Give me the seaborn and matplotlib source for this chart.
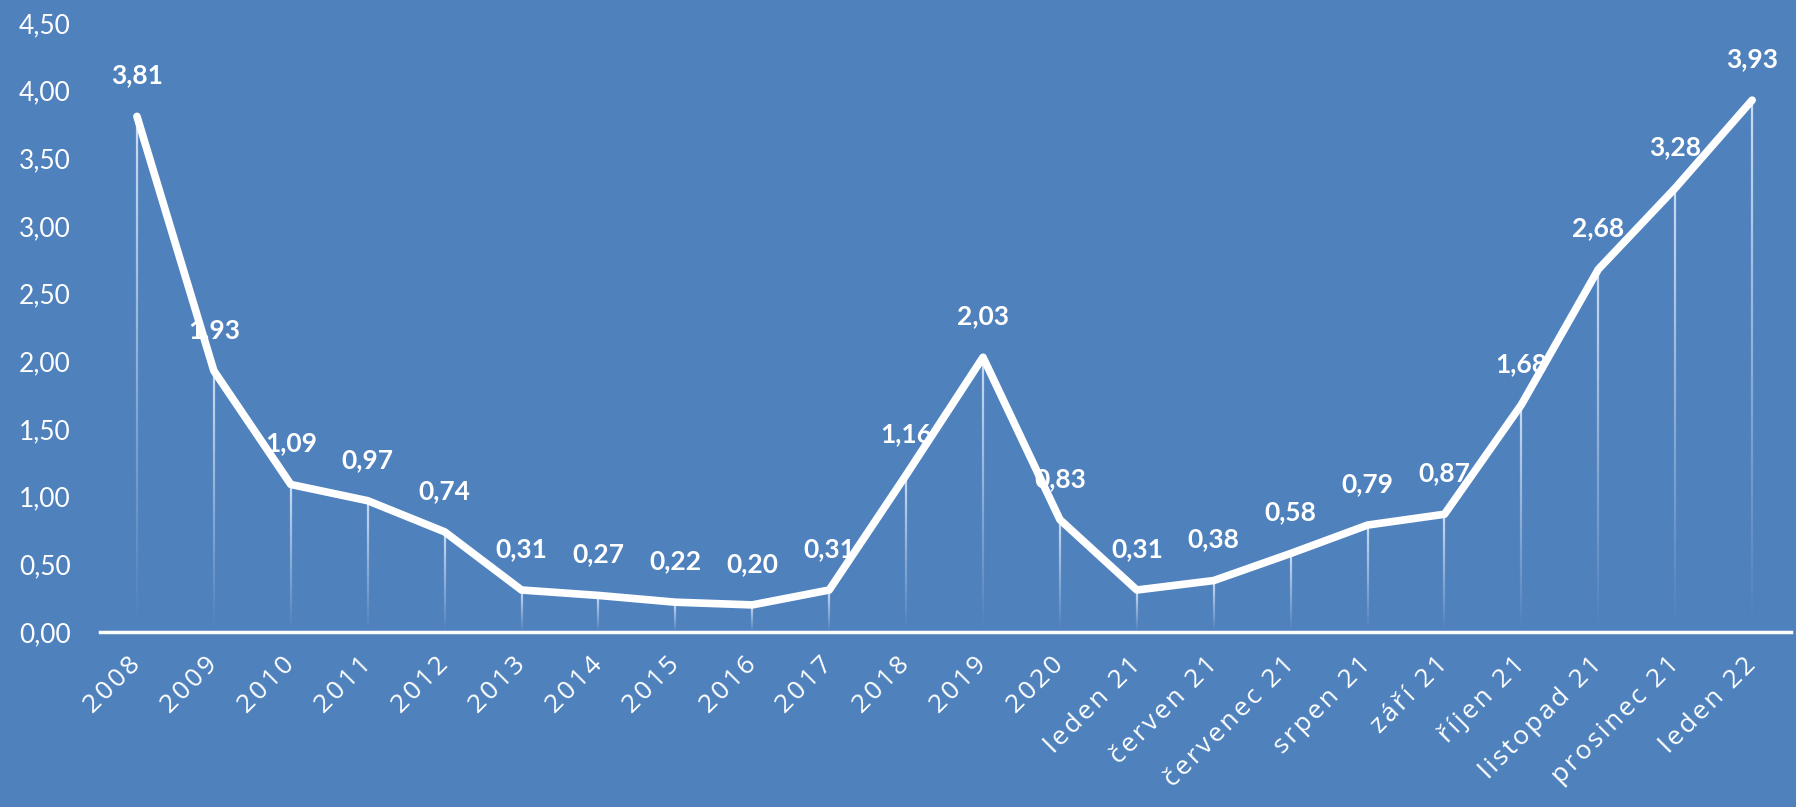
import seaborn as sns
import matplotlib.pyplot as plt
import pandas as pd
import numpy as np
from matplotlib.collections import LineCollection

# Data
labels = ['2008', '2009', '2010', '2011', '2012', '2013', '2014', '2015', '2016',
          '2017', '2018', '2019', '2020', 'leden 21', 'červen 21', 'červenec 21',
          'srpen 21', 'září 21', 'říjen 21', 'listopad 21', 'prosinec 21', 'leden 22']
values = [3.81, 1.93, 1.09, 0.97, 0.74, 0.31, 0.27, 0.22, 0.20, 0.31, 1.16, 2.03,
          0.83, 0.31, 0.38, 0.58, 0.79, 0.87, 1.68, 2.68, 3.28, 3.93]
yticks = [0, 0.5, 1.0, 1.5, 2.0, 2.5, 3.0, 3.5, 4.0, 4.5]

df = pd.DataFrame({"pos": np.arange(len(labels)), "value": values})

bg = "#4F81BD"
sns.set_style("white")
plt.rcParams['font.family'] = ['Lato', 'DejaVu Sans']

fig = plt.figure(figsize=(17.96, 8.07), dpi=100, facecolor=bg)
ax = fig.add_axes([0.0557, 0.2169, 0.9413, 0.7546])
ax.set_facecolor(bg)

# drop lines fading towards the baseline
for xi, yi in zip(df["pos"], df["value"]):
    ys = np.linspace(0, yi, 40)
    segs = [[(xi, ys[k]), (xi, ys[k + 1])] for k in range(len(ys) - 1)]
    alphas = np.linspace(0.0, 0.8, len(segs))
    cols = [(0.92, 0.95, 1.0, a) for a in alphas]
    ax.add_collection(LineCollection(segs, colors=cols, linewidths=1.6, zorder=1))

sns.lineplot(data=df, x="pos", y="value", color="white", linewidth=5.5, ax=ax,
             zorder=4, solid_capstyle="round", solid_joinstyle="round")

for xi, yi in zip(df["pos"], df["value"]):
    ax.annotate(f"{yi:.2f}".replace(".", ","), (xi, yi), xytext=(0, 29.5),
                textcoords="offset points", ha="center", va="center",
                fontsize=19, fontweight="bold", color="white", zorder=3)

ax.set_xlim(-0.48, len(labels) - 0.5)
ax.set_ylim(0, 4.5)
ax.set_yticks(yticks)
ax.set_yticklabels([f"{t:.2f}".replace(".", ",") for t in yticks],
                   fontsize=19, color="white")
ax.set_xticks(df["pos"])
# Excel-style letter spacing on the category labels
ax.set_xticklabels(["\u200a".join(l) for l in labels], rotation=45, ha="right",
                   va="center", rotation_mode="anchor", fontsize=19, color="white",
                   family=['Open Sans', 'DejaVu Sans'])
ax.tick_params(axis="y", length=0, pad=21)
ax.tick_params(axis="x", length=0, pad=21)
ax.set_xlabel("")
ax.set_ylabel("")
for s in ["top", "right", "left"]:
    ax.spines[s].set_visible(False)
ax.spines["bottom"].set_color("white")
ax.spines["bottom"].set_linewidth(2.5)
ax.spines["bottom"].set_zorder(5)

plt.savefig("out.png", dpi=100, facecolor=bg)
plt.close()
